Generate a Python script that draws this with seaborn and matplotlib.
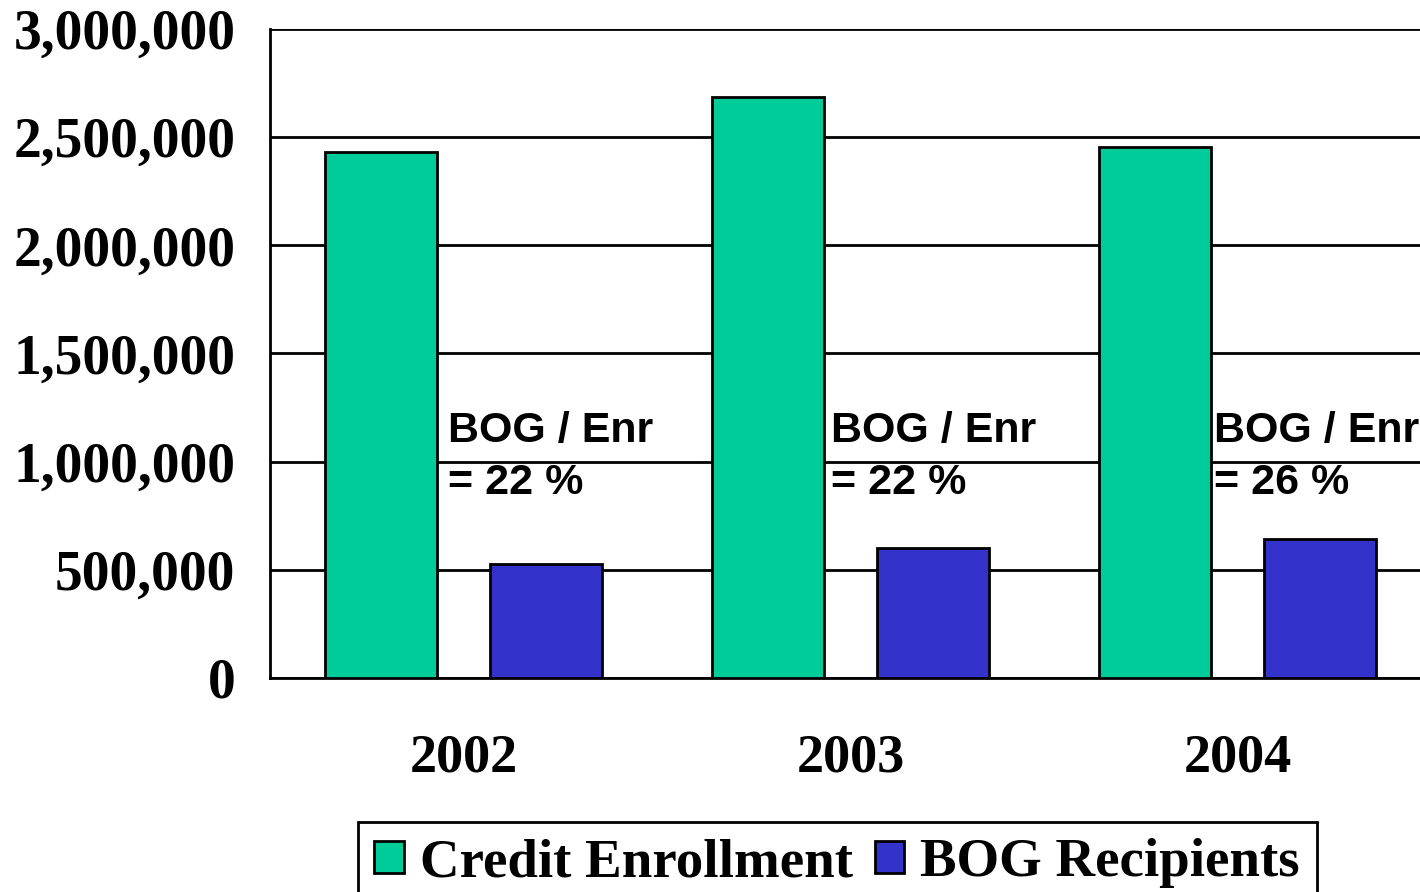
import pandas as pd
import matplotlib.pyplot as plt
import seaborn as sns

# data
years = ["2002", "2003", "2004"]
enrollment = [2431000, 2686000, 2455000]
bog = [527000, 601000, 642000]
series_names = ["Credit Enrollment", "BOG Recipients"]
colors = ["#00CC99", "#3333CC"]
y_ticks = [0, 500000, 1000000, 1500000, 2000000, 2500000, 3000000]

df = pd.DataFrame({
    "year": years * 2,
    "value": enrollment + bog,
    "series": [series_names[0]] * 3 + [series_names[1]] * 3,
})

sns.set_style("white")
plt.rcParams["font.family"] = ["Liberation Serif", "DejaVu Serif"]
plt.rcParams["text.color"] = "black"
plt.rcParams["xtick.color"] = "black"
plt.rcParams["ytick.color"] = "black"

fig = plt.figure(figsize=(14.2, 8.92), dpi=100)
ax = fig.add_axes([270 / 1420, 214 / 892, 1161 / 1420, 649 / 892])

sns.barplot(data=df, x="year", y="value", hue="series", palette=colors,
            saturation=1, width=0.85, gap=0.32, edgecolor="black", linewidth=2,
            legend=True, ax=ax, zorder=3)

ax.set_xlim(-0.5, 2.5)
ax.set_ylim(0, 3000000)
ax.set_yticks(y_ticks)
ax.set_yticklabels([f"{v:,}" for v in y_ticks], fontsize=40, fontweight="bold")
ax.set_xticks(range(len(years)))
ax.set_xticklabels(years, fontsize=39, fontweight="bold")
ax.tick_params(axis="x", length=0, pad=40)
ax.tick_params(axis="y", length=15, width=2, direction="out", pad=10, color="black")
ax.set_xticks([-0.5, 0.5, 1.5, 2.5], minor=True)
ax.tick_params(axis="x", which="minor", length=12, width=2, direction="out", color="black")
ax.set_xlabel("")
ax.set_ylabel("")

ax.grid(axis="y", color="black", linewidth=2, zorder=0)
ax.set_axisbelow(True)
for side in ["left", "bottom"]:
    ax.spines[side].set_color("black")
    ax.spines[side].set_linewidth(2)
ax.spines["top"].set_visible(False)
ax.spines["right"].set_visible(False)

# ratio labels
for i, (e, b) in enumerate(zip(enrollment, bog)):
    pct = round(b / e * 100)
    ax.text(i - 0.04 - 0.01 * i, 1235000, f"BOG / Enr\n= {pct} %", ha="left", va="top",
            fontsize=31, fontweight="bold", family=["Liberation Sans", "DejaVu Sans"],
            linespacing=1.38, zorder=5)

handles, labels = ax.get_legend_handles_labels()
ax.get_legend().remove()
leg = fig.legend(handles, labels, loc="upper left", bbox_to_anchor=(358 / 1420, 70 / 892),
                 ncol=2, frameon=True, fancybox=False, edgecolor="black", framealpha=1,
                 prop={"family": "Liberation Serif", "weight": "bold", "size": 39.5},
                 handlelength=0.53, handleheight=0.53, handletextpad=0.3,
                 columnspacing=0.4, borderpad=0.3, borderaxespad=0)
leg.get_frame().set_linewidth(2)

fig.savefig("out.png", dpi=100)
